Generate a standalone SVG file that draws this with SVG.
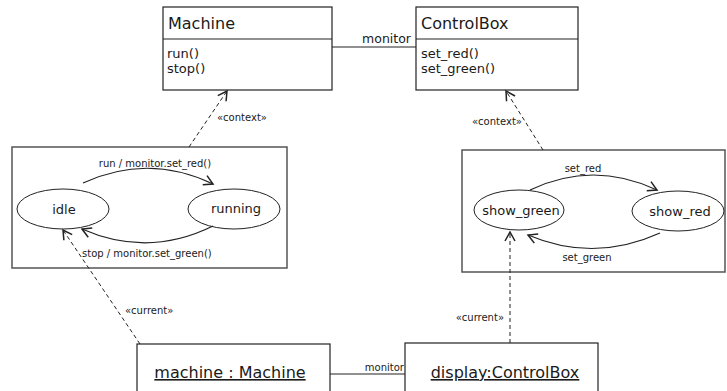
<svg xmlns="http://www.w3.org/2000/svg" width="727" height="391" viewBox="0 0 727 391">
  <style>
    text { font-family: "DejaVu Sans", Verdana, sans-serif; fill: #1a1a1a; }
    .cls { fill: #fff; stroke: #222; stroke-width: 1.2; }
    .frame { fill: #fff; stroke: #555; stroke-width: 1.5; }
    .state { fill: #fff; stroke: #222; stroke-width: 1; }
    .title { font-size: 16px; }
    .op { font-size: 13px; }
    .sname { font-size: 13px; text-anchor: middle; }
    .lbl { font-size: 10px; }
    .mid { text-anchor: middle; }
    .end { text-anchor: end; }
    .obj { font-size: 16px; text-anchor: middle; text-decoration: underline; }
    .assoc { fill: none; stroke: #222; stroke-width: 1.2; }
    .dep { fill: none; stroke: #222; stroke-width: 1; stroke-dasharray: 4 3; }
    .trans { fill: none; stroke: #222; stroke-width: 1.2; }
  </style>
  <defs>
    <marker id="open" viewBox="-11 -7 13 14" refX="0" refY="0" markerWidth="13" markerHeight="14" markerUnits="userSpaceOnUse" orient="auto">
      <path d="M-9,-5 L0,0 L-9,5" fill="none" stroke="#222" stroke-width="1.5" stroke-dasharray="none"/>
    </marker>
  </defs>

  <!-- class Machine -->
  <g id="machine-class">
    <rect class="cls" x="163" y="7" width="169" height="83"/>
    <line class="cls" x1="163" y1="39" x2="332" y2="39"/>
    <text class="title" x="168" y="29">Machine</text>
    <text class="op" x="167" y="58">run()</text>
    <text class="op" x="167" y="73">stop()</text>
  </g>

  <!-- class ControlBox -->
  <g id="controlbox-class">
    <rect class="cls" x="416" y="7" width="162" height="83"/>
    <line class="cls" x1="416" y1="39" x2="578" y2="39"/>
    <text class="title" x="421" y="29">ControlBox</text>
    <text class="op" x="421" y="58">set_red()</text>
    <text class="op" x="421" y="73">set_green()</text>
  </g>

  <!-- state machine of Machine -->
  <g id="machine-sm">
    <rect class="frame" x="12" y="147" width="275" height="121"/>
  </g>
  <g id="idle">
    <ellipse class="state" cx="63" cy="209" rx="46" ry="20"/>
    <text class="sname" x="64" y="214">idle</text>
  </g>
  <g id="running">
    <ellipse class="state" cx="234" cy="209" rx="46" ry="20"/>
    <text class="sname" x="236" y="213">running</text>
  </g>

  <!-- state machine of ControlBox -->
  <g id="controlbox-sm">
    <rect class="frame" x="462" y="150" width="263" height="122"/>
  </g>
  <g id="show_green">
    <ellipse class="state" cx="519" cy="210" rx="45" ry="20"/>
    <text class="sname" x="521" y="215">show_green</text>
  </g>
  <g id="show_red">
    <ellipse class="state" cx="678" cy="211" rx="46" ry="20"/>
    <text class="sname" x="680" y="216">show_red</text>
  </g>

  <!-- object machine : Machine -->
  <g id="machine-obj">
    <rect class="cls" x="137" y="344" width="193" height="60"/>
    <text class="obj" x="230" y="378">machine : Machine</text>
  </g>

  <!-- object display:ControlBox -->
  <g id="display-obj">
    <rect class="cls" x="405" y="343" width="193" height="60"/>
    <text class="obj" x="505" y="378">display:ControlBox</text>
  </g>

  <g id="connectors">
    <!-- associations -->
    <line class="assoc" x1="332" y1="47" x2="416" y2="47"/>
    <text class="op end" x="411" y="43" style="font-size:12.5px">monitor</text>
    <line class="assoc" x1="330" y1="374" x2="405" y2="374"/>
    <text class="lbl end" x="404" y="371">monitor</text>

    <!-- context dependencies -->
    <line class="dep" x1="189" y1="147" x2="227" y2="91" marker-end="url(#open)"/>
    <text class="lbl" x="217" y="121">«context»</text>
    <line class="dep" x1="543" y1="150" x2="506" y2="91" marker-end="url(#open)"/>
    <text class="lbl" x="472" y="125">«context»</text>

    <!-- current-state dependencies -->
    <line class="dep" x1="140" y1="344" x2="63" y2="230" marker-end="url(#open)"/>
    <text class="lbl" x="125" y="314">«current»</text>
    <line class="dep" x1="510" y1="343" x2="510" y2="232" marker-end="url(#open)"/>
    <text class="lbl end" x="504" y="321">«current»</text>

    <!-- transitions: Machine -->
    <path class="trans" d="M83,183 Q148,153 213,184" marker-end="url(#open)"/>
    <text class="lbl mid" x="155" y="167">run / monitor.set_red()</text>
    <path class="trans" d="M213,226 Q148,258 82,229" marker-end="url(#open)"/>
    <text class="lbl" x="82" y="257">stop / monitor.set_green()</text>

    <!-- transitions: ControlBox -->
    <path class="trans" d="M530,190 Q593,160 657,190" marker-end="url(#open)"/>
    <text class="lbl mid" x="583" y="172">set_red</text>
    <path class="trans" d="M660,233 Q594,263 528,235" marker-end="url(#open)"/>
    <text class="lbl mid" x="587" y="261">set_green</text>
  </g>
</svg>
